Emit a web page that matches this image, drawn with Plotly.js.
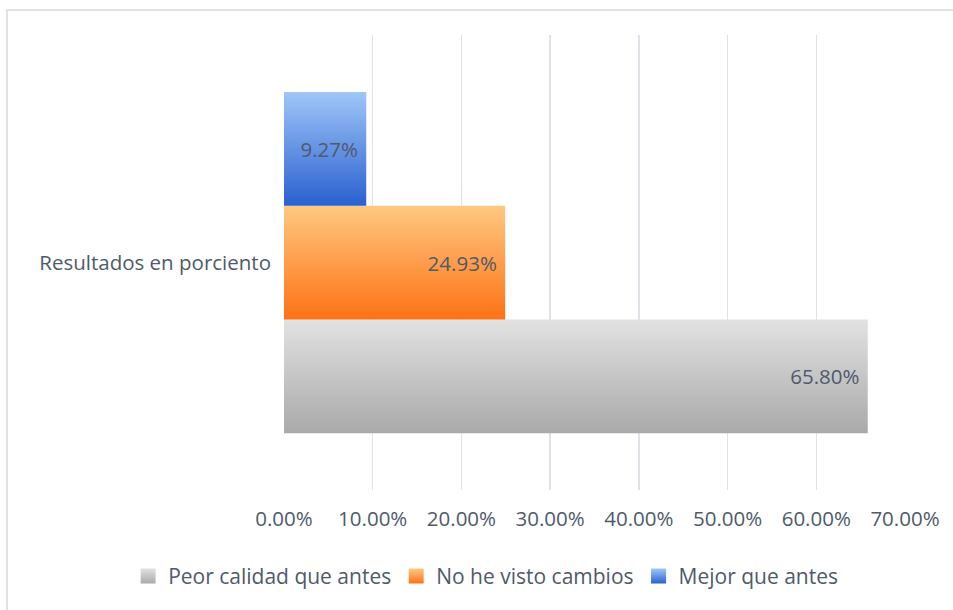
<!DOCTYPE html>
<html>
<head>
<meta charset="utf-8">
<script src="https://cdn.plot.ly/plotly-3.0.1.min.js"></script>
<style>html,body{margin:0;padding:0;background:#fff;}#chart{width:953px;height:610px;}</style>
</head>
<body>
<div id="chart"></div>
<script>
const categories = ["Resultados en porciento"];
const seriesNames = ["Peor calidad que antes", "No he visto cambios", "Mejor que antes"];
const peorCalidad = [0.6580];
const noCambios = [0.2493];
const mejor = [0.0927];
const tickValues = [0, 0.1, 0.2, 0.3, 0.4, 0.5, 0.6, 0.7];
const tickLabels = ["0.00%", "10.00%", "20.00%", "30.00%", "40.00%", "50.00%", "60.00%", "70.00%"];

const colors = ["#c4c4c4", "#fd9a3e", "#5a92e6"];
const gradients = [["#e2e2e2", "#a9a9a9"], ["#ffc882", "#fd7214"], ["#a0c6f8", "#2a60d0"]];
const values = [peorCalidad, noCambios, mejor];
const font = "'Open Sans', sans-serif";
const txtColor = "#4f5a6b";
const fs = 20.5;

const traces = seriesNames.map((n, i) => ({
  type: "bar",
  orientation: "h",
  name: n,
  y: categories,
  x: values[i],
  marker: {color: colors[i], line: {width: 0}},
  text: values[i].map(v => (v*100).toFixed(2) + "%\u00a0"),
  textposition: "inside",
  insidetextanchor: "end",
  textangle: 0,
  textfont: {family: font, size: fs, color: txtColor},
  hoverinfo: "none"
}));

const layout = {
  width: 953, height: 610,
  margin: {l: 284, r: 48, t: 35, b: 120, autoexpand: false},
  paper_bgcolor: "#fff", plot_bgcolor: "#fff",
  barmode: "group",
  bargap: 0.25,
  bargroupgap: 0,
  font: {family: font, size: fs, color: txtColor},
  xaxis: {
    range: [0, 0.7],
    tickvals: tickValues,
    ticktext: tickLabels,
    showgrid: true, gridcolor: "#dfe2e8", gridwidth: 1.5,
    zeroline: false, showline: false,
    ticks: "", ticklabelstandoff: 14,
    tickfont: {family: font, size: fs, color: txtColor},
    automargin: false,
    fixedrange: true
  },
  yaxis: {
    showgrid: false, zeroline: false, showline: false,
    ticks: "", ticklabelstandoff: 12,
    tickfont: {family: font, size: fs, color: txtColor},
    automargin: false,
    fixedrange: true
  },
  showlegend: true,
  legend: {
    orientation: "h", xref: "paper", yref: "paper",
    x: -0.251, xanchor: "left", y: -0.19, yanchor: "middle",
    font: {family: font, size: 21, color: txtColor},
    traceorder: "normal", itemwidth: 30, tracegroupgap: 0
  },
  shapes: [{
    type: "rect", xref: "paper", yref: "paper",
    x0: -0.446, x1: 1.3, y0: -0.4, y1: 1.055,
    line: {color: "#d9d9d9", width: 1.5}, fillcolor: "rgba(0,0,0,0)", layer: "below"
  }]
};

function applyGradients(gd) {
  const svg = gd.querySelector("svg.main-svg");
  const ns = "http://www.w3.org/2000/svg";
  let defs = svg.querySelector("defs");
  if (!defs) { defs = document.createElementNS(ns, "defs"); svg.insertBefore(defs, svg.firstChild); }
  gradients.forEach((g, i) => {
    const lg = document.createElementNS(ns, "linearGradient");
    lg.setAttribute("id", "barGrad" + i);
    lg.setAttribute("x1", "0"); lg.setAttribute("y1", "0");
    lg.setAttribute("x2", "0"); lg.setAttribute("y2", "1");
    [[0, g[0]], [1, g[1]]].forEach(([o, c]) => {
      const s = document.createElementNS(ns, "stop");
      s.setAttribute("offset", o); s.setAttribute("stop-color", c);
      lg.appendChild(s);
    });
    defs.appendChild(lg);
  });
  gd.querySelectorAll(".barlayer .trace").forEach((t, i) => {
    t.querySelectorAll("path").forEach(p => { p.style.fill = "url(#barGrad" + i + ")"; });
  });
  gd.querySelectorAll(".legend .traces").forEach((t, i) => {
    t.querySelectorAll(".legendpoints path").forEach(p => {
      p.style.fill = "url(#barGrad" + i + ")"; p.style.stroke = "none";
      p.setAttribute("transform", (p.getAttribute("transform") || "") + " scale(1.25)");
    });
  });
}

Plotly.newPlot("chart", traces, layout, {displayModeBar: false, staticPlot: true}).then(applyGradients);
</script>
</body>
</html>
